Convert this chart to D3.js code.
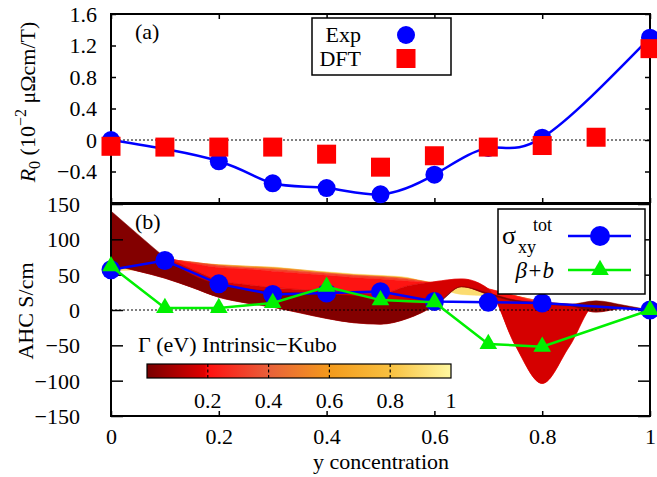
<!DOCTYPE html>
<html>
<head>
<meta charset="utf-8">
<script src="https://cdn.jsdelivr.net/npm/d3@7"></script>
<style>
  html, body { margin: 0; padding: 0; background: #fff; }
  svg, svg text, svg tspan { font-family: "Liberation Serif", "Times New Roman", Times, "Nimbus Roman", "DejaVu Serif", serif !important; }
  svg text { fill: #000; }
</style>
</head>
<body>
<svg id="fig" width="657" height="477"></svg>
<script>
// ---- panel (a): Hall coefficient R0 ----
const expY   = [0, 0.2, 0.3, 0.4, 0.5, 0.6, 0.7, 0.8, 1.0];
const expR0  = [0.0, -0.27, -0.55, -0.61, -0.69, -0.44, -0.10, 0.03, 1.30];
const dftY   = [0, 0.1, 0.2, 0.3, 0.4, 0.5, 0.6, 0.7, 0.8, 0.9, 1.0];
const dftR0  = [-0.08, -0.09, -0.09, -0.09, -0.18, -0.345, -0.20, -0.09, -0.07, 0.035, 1.16];
const r0Ticks = [-0.4, 0, 0.4, 0.8, 1.2, 1.6];

// ---- panel (b): anomalous Hall conductivity ----
const ahcY     = [0, 0.1, 0.2, 0.3, 0.4, 0.5, 0.6, 0.7, 0.8, 1.0];
const sigmaTot = [57, 70, 37, 22, 24, 26, 12, 11, 10, 0];
const betaB    = [62, 3, 3, 10, 33, 14, 11, -48, -52, 0];
const ahcTicks = [-150, -100, -50, 0, 50, 100, 150];
const xTicks   = [0, 0.2, 0.4, 0.6, 0.8, 1];

// Intrinsic Kubo AHC surface: one row per broadening Gamma (eV), sampled on kuboY
const kuboY = [0, 0.05, 0.1, 0.15, 0.2, 0.25, 0.3, 0.35, 0.4, 0.45, 0.5,
               0.55, 0.6, 0.65, 0.7, 0.75, 0.8, 0.85, 0.9, 0.95, 1.0];
const gammaLevels = [0, 0.05, 0.1, 0.2, 0.4, 0.7, 1.0];
const kubo_g000 = [140, 107, 75, 50, 36, 30, 26, 24, 22, 20, 16, 10, 9, 33, 24, 14, 10, 8, 13, 7, 0];
const kubo_g005 = [64, 55, 45, 32, 18, 10, 4, -4, -12, -18, -20, -12, 6, 33, 22, 12, 8, 6, -3, 2, 0];
const kubo_g010 = [88, 82, 74, 58, 42, 36, 32, 29, 27, 25, 23, 34, 40, 44, 30, -50, -104, -52, 8, 4, 0];
const kubo_g020 = [84, 80, 74, 66, 60, 58, 55, 52, 49, 46, 44, 41, 38, 36, 30, 20, 10, 8, 7, 3, 0];
const kubo_g040 = [78, 75, 72, 68, 63, 60, 58, 55, 52, 49, 47, 44, 38, 34, 28, 20, 12, 8, 6, 3, 0];
const kubo_g070 = [70, 70, 70, 67, 64, 62, 60, 57, 53, 50, 48, 45, 38, 33, 28, 20, 12, 8, 6, 3, 0];
const kubo_g100 = [55, 57, 60, 62, 64, 62, 61, 57, 54, 51, 49, 46, 34, 22, 20, 16, 11, 7, 5, 3, 0];
const kuboRows = [kubo_g000, kubo_g005, kubo_g010, kubo_g020, kubo_g040, kubo_g070, kubo_g100];

// colour palette for Gamma
const palStops  = [0, 0.19, 0.2, 0.4, 0.6, 0.8, 1.0];
const palColors = ["#780000", "#e00000", "#ff1010", "#e8603a", "#f39a1c", "#f8c040", "#fff8a0"];
const cbTicks = [0.2, 0.4, 0.6, 0.8, 1];

// ---------------- layout ----------------
const FONT = "Liberation Serif, Times New Roman, serif";
const FS = 22;
const svg = d3.select("#fig").attr("font-family", FONT);
const L = 111, R = 650;
const aTop = 14, aBot = 203, bTop = 204, bBot = 416;

const x = d3.scaleLinear().domain([0, 1]).range([L, R]);
const yA = d3.scaleLinear().domain([-0.8, 1.6]).range([aBot, aTop]);
const yB = d3.scaleLinear().domain([-150, 150]).range([bBot, bTop]);
const pal = d3.scaleLinear().domain(palStops).range(palColors);
const fmt = d3.format("~g");

const BLUE = "#0000ff", GREEN = "#00f000", RED = "#ff0000";

// ---------- panel (b) surface ----------
svg.append("clipPath").attr("id", "clipB")
  .append("rect").attr("x", L).attr("y", bTop).attr("width", R - L).attr("height", bBot - bTop);

// shade sampled for each strip between neighbouring Gamma rows
const stripTone = [0.02, 0.17, 0.21, 0.33, 0.55, 0.9];
const surf = svg.append("g").attr("clip-path", "url(#clipB)");
// large Gamma painted first, the clean limit ends on top
for (let i = gammaLevels.length - 2; i >= 0; i--) {
  const lo = kuboRows[i], hi = kuboRows[i + 1];
  const col = pal(stripTone[i]);
  const area = d3.area()
    .x((d, k) => x(kuboY[k]))
    .y0((d, k) => yB(lo[k]))
    .y1((d, k) => yB(hi[k]))
    .curve(d3.curveMonotoneX);
  surf.append("path")
    .attr("d", area(kuboY))
    .attr("fill", col)
    .attr("stroke", col)
    .attr("stroke-width", 0.5);
}

// zero lines
svg.append("line").attr("x1", L).attr("x2", R).attr("y1", yA(0)).attr("y2", yA(0))
  .attr("stroke", "#000").attr("stroke-width", 1).attr("stroke-dasharray", "2,2");
svg.append("line").attr("x1", L).attr("x2", R).attr("y1", yB(0)).attr("y2", yB(0))
  .attr("stroke", "#000").attr("stroke-width", 1).attr("stroke-dasharray", "2,2");

// ---------- axes ----------
function styleAxis(g) {
  g.attr("font-family", FONT).attr("font-size", FS);
  g.select(".domain").remove();
  g.selectAll(".tick line").attr("stroke", "#000").attr("stroke-width", 1.5);
  g.selectAll(".tick text").attr("fill", "#000");
}
// panel (a)
svg.append("g").attr("transform", `translate(${L},0)`)
  .call(d3.axisLeft(yA).tickValues(r0Ticks).tickSize(-5).tickPadding(14).tickFormat(fmt))
  .call(styleAxis)
  .call(g => g.selectAll(".tick text").attr("dy", "0.34em"));
svg.append("g").attr("transform", `translate(${R},0)`)
  .call(d3.axisRight(yA).tickValues(r0Ticks).tickSize(-5).tickFormat(""))
  .call(styleAxis);
svg.append("g").attr("transform", `translate(0,${aTop})`)
  .call(d3.axisTop(x).tickValues(xTicks).tickSize(-5).tickFormat(""))
  .call(styleAxis);
svg.append("g").attr("transform", `translate(0,${aBot})`)
  .call(d3.axisBottom(x).tickValues(xTicks).tickSize(-5).tickFormat(""))
  .call(styleAxis);
// panel (b)
svg.append("g").attr("transform", `translate(${L},0)`)
  .call(d3.axisLeft(yB).tickValues(ahcTicks).tickSize(-12).tickPadding(31).tickFormat(fmt))
  .call(styleAxis)
  .call(g => g.selectAll(".tick text").attr("dy", "0.34em"));
svg.append("g").attr("transform", `translate(${R},0)`)
  .call(d3.axisRight(yB).tickValues(ahcTicks).tickSize(-12).tickFormat(""))
  .call(styleAxis);
svg.append("g").attr("transform", `translate(0,${bBot})`)
  .call(d3.axisBottom(x).tickValues(xTicks).tickSize(-5).tickPadding(12).tickFormat(fmt))
  .call(styleAxis);

// borders
svg.append("rect").attr("x", L).attr("y", aTop).attr("width", R - L).attr("height", aBot - aTop)
  .attr("fill", "none").attr("stroke", "#000").attr("stroke-width", 2);
svg.append("rect").attr("x", L).attr("y", bTop).attr("width", R - L).attr("height", bBot - bTop)
  .attr("fill", "none").attr("stroke", "#000").attr("stroke-width", 2);

// ---------- panel (a) data ----------
const expLine = d3.line().x((d, i) => x(expY[i])).y(d => yA(d)).curve(d3.curveNatural);
svg.append("path").attr("d", expLine(expR0)).attr("fill", "none")
  .attr("stroke", BLUE).attr("stroke-width", 2.5);
svg.append("g").selectAll("circle").data(expR0).join("circle")
  .attr("cx", (d, i) => x(expY[i])).attr("cy", d => yA(d)).attr("r", 9).attr("fill", BLUE);
svg.append("g").selectAll("rect").data(dftR0).join("rect")
  .attr("x", (d, i) => x(dftY[i]) - 9.5).attr("y", d => yA(d) - 9.5)
  .attr("width", 19).attr("height", 19).attr("fill", RED);

// ---------- panel (b) data ----------
const ahcLine = d3.line().x((d, i) => x(ahcY[i])).y(d => yB(d));
svg.append("path").attr("d", ahcLine(sigmaTot)).attr("fill", "none")
  .attr("stroke", BLUE).attr("stroke-width", 2.5);
svg.append("g").selectAll("circle").data(sigmaTot).join("circle")
  .attr("cx", (d, i) => x(ahcY[i])).attr("cy", d => yB(d)).attr("r", 9.5).attr("fill", BLUE);
svg.append("path").attr("d", ahcLine(betaB)).attr("fill", "none")
  .attr("stroke", GREEN).attr("stroke-width", 2.5);
const tri = d3.symbol(d3.symbolTriangle).size(135);
svg.append("g").selectAll("path").data(betaB).join("path")
  .attr("d", tri).attr("fill", GREEN)
  .attr("transform", (d, i) => `translate(${x(ahcY[i])},${yB(d)})`);

// ---------- labels ----------
svg.append("text").attr("x", 135).attr("y", 39).attr("font-size", FS).text("(a)");
svg.append("text").attr("x", 135).attr("y", 229).attr("font-size", FS).text("(b)");

const yl = svg.append("text").attr("transform", "translate(35,102) rotate(-90)")
  .attr("text-anchor", "middle").attr("font-size", FS);
yl.append("tspan").attr("font-style", "italic").text("R");
yl.append("tspan").attr("font-size", 16).attr("dy", 5).text("0");
yl.append("tspan").attr("dy", -5).text(" (10");
yl.append("tspan").attr("font-size", 16).attr("dy", -9).text("−2");
yl.append("tspan").attr("dy", 9).text(" μΩcm/T)");

svg.append("text").attr("transform", "translate(33,311) rotate(-90)")
  .attr("text-anchor", "middle").attr("font-size", FS).text("AHC S/cm");
svg.append("text").attr("x", 381).attr("y", 469).attr("text-anchor", "middle")
  .attr("font-size", FS).text("y concentration");

// ---------- legend (a) ----------
svg.append("rect").attr("x", 312).attr("y", 18).attr("width", 139).attr("height", 57)
  .attr("fill", "#fff").attr("stroke", "#000").attr("stroke-width", 1.5);
svg.append("text").attr("x", 361).attr("y", 42).attr("text-anchor", "end").attr("font-size", FS).text("Exp");
svg.append("text").attr("x", 361).attr("y", 66).attr("text-anchor", "end").attr("font-size", FS).text("DFT");
svg.append("circle").attr("cx", 406).attr("cy", 35).attr("r", 9).attr("fill", BLUE);
svg.append("rect").attr("x", 396.5).attr("y", 49).attr("width", 19).attr("height", 19).attr("fill", RED);

// ---------- legend (b) ----------
svg.append("rect").attr("x", 498).attr("y", 209).attr("width", 147).attr("height", 85)
  .attr("fill", "#fff").attr("stroke", "#000").attr("stroke-width", 1.5);
const sg = svg.append("text").attr("font-size", 26);
sg.append("tspan").attr("x", 502).attr("y", 244).text("σ");
sg.append("tspan").attr("x", 518).attr("y", 253).attr("font-size", 18).text("xy");
sg.append("tspan").attr("x", 533).attr("y", 231).attr("font-size", 18).text("tot");
svg.append("line").attr("x1", 568).attr("x2", 631).attr("y1", 236).attr("y2", 236)
  .attr("stroke", BLUE).attr("stroke-width", 2.5);
svg.append("circle").attr("cx", 600).attr("cy", 236).attr("r", 10).attr("fill", BLUE);
svg.append("text").attr("x", 554).attr("y", 278).attr("text-anchor", "end")
  .attr("font-size", 23).attr("font-style", "italic").text("β+b");
svg.append("line").attr("x1", 568).attr("x2", 631).attr("y1", 270).attr("y2", 270)
  .attr("stroke", GREEN).attr("stroke-width", 2.5);
svg.append("path").attr("d", tri).attr("fill", GREEN).attr("transform", "translate(600,270)");

// ---------- colour bar ----------
const cbX0 = 147, cbX1 = 451, cbY = 364, cbH = 14;
const cbScale = d3.scaleLinear().domain([0, 1]).range([cbX0, cbX1]);
const grad = svg.append("defs").append("linearGradient").attr("id", "gammaGrad")
  .attr("x1", "0%").attr("x2", "100%").attr("y1", "0%").attr("y2", "0%");
palStops.forEach((s, i) => grad.append("stop").attr("offset", (s * 100) + "%").attr("stop-color", palColors[i]));
svg.append("rect").attr("x", cbX0).attr("y", cbY).attr("width", cbX1 - cbX0).attr("height", cbH)
  .attr("fill", "url(#gammaGrad)").attr("stroke", "#000").attr("stroke-width", 1.2);
svg.append("g").selectAll("line").data(cbTicks.filter(t => t < 1)).join("line")
  .attr("x1", d => cbScale(d)).attr("x2", d => cbScale(d))
  .attr("y1", cbY).attr("y2", cbY + cbH)
  .attr("stroke", "#000").attr("stroke-width", 1.2).attr("stroke-dasharray", "3,2.5");
svg.append("g").selectAll("text").data(cbTicks).join("text")
  .attr("x", d => cbScale(d)).attr("y", 408).attr("text-anchor", "middle")
  .attr("font-size", FS).text(d => fmt(d));
svg.append("text").attr("x", 138).attr("y", 352).attr("font-size", FS)
  .text("Γ (eV) Intrinsic−Kubo");
</script>
</body>
</html>
